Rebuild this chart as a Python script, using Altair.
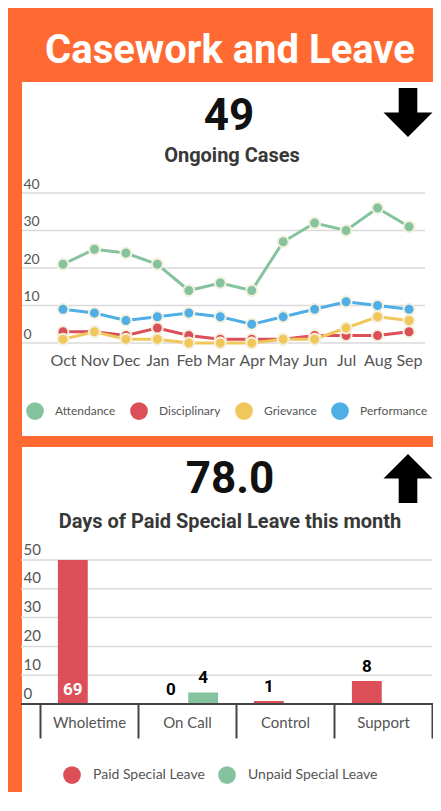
import altair as alt
import pandas as pd

# ---------------- data ----------------
months = ["Oct", "Nov", "Dec", "Jan", "Feb", "Mar", "Apr", "May", "Jun", "Jul", "Aug", "Sep"]
attendance = [21, 25, 24, 21, 14, 16, 14, 27, 32, 30, 36, 31]
disciplinary = [3, 3, 2, 4, 2, 1, 1, 1, 2, 2, 2, 3]
grievance = [1, 3, 1, 1, 0, 0, 0, 1, 1, 4, 7, 6]
performance = [9, 8, 6, 7, 8, 7, 5, 7, 9, 11, 10, 9]
case_types = ["Attendance", "Disciplinary", "Grievance", "Performance"]
case_colors = ["#84C39E", "#DC4F58", "#F1C75B", "#4FAEE6"]
case_ticks = [0, 10, 20, 30, 40]

leave_categories = ["Wholetime", "On Call", "Control", "Support"]
paid_leave = [69, 0, 1, 8]
unpaid_leave = [None, 4, None, None]
leave_types = ["Paid Special Leave", "Unpaid Special Leave"]
leave_colors = ["#DC4F58", "#84C39E"]
leave_ticks = [0, 10, 20, 30, 40, 50]

# ---------------- tables ----------------
case_rows = []
for t, vals in zip(case_types, [attendance, disciplinary, grievance, performance]):
    for i, (m, v) in enumerate(zip(months, vals)):
        case_rows.append({"month": m, "idx": i, "type": t, "value": v})
cases = pd.DataFrame(case_rows)

leave_rows = []
for c, p, u in zip(leave_categories, paid_leave, unpaid_leave):
    if p is not None:
        leave_rows.append({"category": c, "type": leave_types[0], "value": p})
    if u is not None:
        leave_rows.append({"category": c, "type": leave_types[1], "value": u})
leave = pd.DataFrame(leave_rows)

case_tick_df = pd.DataFrame({"tick": case_ticks})
leave_tick_df = pd.DataFrame({"tick": leave_ticks})
zero_df = pd.DataFrame({"tick": [0]})
one = pd.DataFrame({"k": [0]})

# ---------------- layout ----------------
W = 411
H = 784
ORANGE = "#FF6A33"
LABEL_FONT = "Lato"
HEAD_FONT = "Roboto"

# ---------------- casework panel ----------------
case_x = alt.Scale(type="point", domain=months, range=[41, 387], padding=0)
case_y = alt.Scale(domain=[0, 40], range=[335, 185])
case_color = alt.Scale(domain=case_types, range=case_colors)

case_y_axis = alt.Axis(orient="left", values=case_ticks, grid=False, domain=False,
                       ticks=False, tickSize=0, labelAlign="left", labelPadding=-1,
                       labelBaseline="alphabetic", labelOffset=-5, labelFontSize=14,
                       labelFont=LABEL_FONT, labelColor="#555555", title=None, zindex=1)
case_x_axis = alt.Axis(orient="bottom", offset=352 - H, ticks=False, tickSize=0,
                       domain=False, grid=False, labelPadding=0, labelBaseline="middle",
                       labelAngle=0, labelFontSize=16, labelFont=LABEL_FONT,
                       labelColor="#555555", title=None, zindex=1)
case_legend = alt.Legend(orient="none", legendX=4, legendY=394, direction="horizontal",
                         title=None, symbolType="circle", symbolSize=314,
                         symbolStrokeWidth=0, symbolOpacity=1, labelFontSize=12,
                         labelFont=LABEL_FONT, labelColor="#555555", labelOffset=11,
                         columnPadding=14, padding=0)

case_grid = alt.Chart(case_tick_df).mark_rule(color="#DADADA", strokeWidth=1.5).encode(
    y=alt.Y("tick:Q", scale=case_y, axis=case_y_axis),
    x=alt.value(0), x2=alt.value(403))

case_lines = alt.Chart(cases).mark_line(strokeWidth=3).encode(
    x=alt.X("month:N", scale=case_x, sort=months, axis=case_x_axis),
    y=alt.Y("value:Q", scale=case_y, axis=case_y_axis),
    color=alt.Color("type:N", scale=case_color, legend=case_legend),
    order=alt.Order("idx:Q"))

case_points = alt.Chart(cases).mark_circle(size=120, opacity=1, stroke="#F4F0DC",
                                           strokeWidth=2).encode(
    x=alt.X("month:N", scale=case_x, sort=months, axis=case_x_axis),
    y=alt.Y("value:Q", scale=case_y, axis=case_y_axis),
    color=alt.Color("type:N", scale=case_color, legend=case_legend))

case_panel = alt.layer(case_grid, case_lines, case_points)

# ---------------- leave panel ----------------
leave_x = alt.Scale(type="band", domain=leave_categories, range=[18, 410],
                    paddingInner=0, paddingOuter=0)
leave_xoff = alt.Scale(type="band", domain=leave_types, paddingInner=0.077, paddingOuter=0.554)
leave_y = alt.Scale(domain=[0, 50], range=[696, 552], clamp=True)
leave_color = alt.Scale(domain=leave_types, range=leave_colors)

leave_y_axis = alt.Axis(orient="left", values=leave_ticks, grid=False, domain=False,
                        ticks=False, tickSize=0, labelAlign="left", labelPadding=-1,
                        labelBaseline="alphabetic", labelOffset=-6, labelFontSize=15,
                        labelFont=LABEL_FONT, labelColor="#555555", title=None, zindex=1)
leave_x_axis = alt.Axis(orient="bottom", offset=696 - H, tickBand="extent", ticks=True,
                        tickSize=34, tickWidth=2, tickColor="#444444", domain=False,
                        grid=False, labelPadding=-16, labelBaseline="middle", labelAngle=0,
                        labelFontSize=15, labelFont=LABEL_FONT, labelColor="#555555",
                        title=None, zindex=1)
leave_legend = alt.Legend(orient="none", legendX=41, legendY=758, direction="horizontal",
                          title=None, symbolType="circle", symbolSize=314,
                          symbolStrokeWidth=0, symbolOpacity=1, labelFontSize=14,
                          labelFont=LABEL_FONT, labelColor="#555555", labelOffset=12,
                          columnPadding=13, padding=0)

leave_grid = alt.Chart(leave_tick_df).mark_rule(color="#DADADA", strokeWidth=1.5).encode(
    y=alt.Y("tick:Q", scale=leave_y, axis=leave_y_axis),
    x=alt.value(-1), x2=alt.value(410))

leave_bars = alt.Chart(leave).mark_bar().encode(
    x=alt.X("category:N", scale=leave_x, sort=leave_categories, axis=leave_x_axis),
    xOffset=alt.XOffset("type:N", scale=leave_xoff, sort=leave_types),
    y=alt.Y("value:Q", scale=leave_y, axis=leave_y_axis, stack=None),
    color=alt.Color("type:N", scale=leave_color, legend=leave_legend))

leave_labels = alt.Chart(leave).transform_calculate(
    label_y="datum.value > 50 ? 0 : datum.value"
).mark_text(font=HEAD_FONT, fontSize=17, fontWeight="bold", baseline="bottom", dy=-5).encode(
    x=alt.X("category:N", scale=leave_x, sort=leave_categories, axis=leave_x_axis),
    xOffset=alt.XOffset("type:N", scale=leave_xoff, sort=leave_types),
    y=alt.Y("label_y:Q", scale=leave_y, axis=leave_y_axis),
    text=alt.Text("value:Q"),
    color=alt.condition(alt.datum.value > 50, alt.value("white"), alt.value("black")))

leave_base = alt.Chart(zero_df).mark_rule(color="#444444", strokeWidth=2).encode(
    y=alt.Y("tick:Q", scale=leave_y, axis=leave_y_axis),
    x=alt.value(-1), x2=alt.value(W))

leave_panel = alt.layer(leave_grid, leave_bars, leave_labels, leave_base)

# ---------------- decorations / headings ----------------
panel1_bg = alt.Chart(one).mark_rect(color="white").encode(
    x=alt.value(0), x2=alt.value(W), y=alt.value(74), y2=alt.value(428))
panel2_bg = alt.Chart(one).mark_rect(color="white").encode(
    x=alt.value(0), x2=alt.value(W), y=alt.value(439), y2=alt.value(H))

main_title = alt.Chart(one).mark_text(text="Casework and Leave", font=HEAD_FONT, fontSize=40,
                                      fontWeight="bold", color="white", align="center",
                                      baseline="alphabetic").encode(
    x=alt.value(208), y=alt.value(55))

cases_total = alt.Chart(cases).transform_filter(alt.datum.month == months[-1]).transform_aggregate(
    total="sum(value)"
).mark_text(font=HEAD_FONT, fontSize=44, fontWeight="bold", color="#111111", align="center",
            baseline="alphabetic").encode(
    text=alt.Text("total:Q", format="d"), x=alt.value(207), y=alt.value(122))

cases_sub = alt.Chart(one).mark_text(text="Ongoing Cases", font=HEAD_FONT, fontSize=20,
                                     fontWeight="bold", color="#383838", align="center",
                                     baseline="alphabetic").encode(
    x=alt.value(210), y=alt.value(154))

leave_total = alt.Chart(leave).transform_filter(alt.datum.type == leave_types[0]).transform_aggregate(
    total="sum(value)"
).mark_text(font=HEAD_FONT, fontSize=44, fontWeight="bold", color="#111111", align="center",
            baseline="alphabetic").encode(
    text=alt.Text("total:Q", format=".1f"), x=alt.value(208), y=alt.value(485))

leave_sub = alt.Chart(one).mark_text(text="Days of Paid Special Leave this month", font=HEAD_FONT,
                                     fontSize=20, fontWeight="bold", color="#383838",
                                     align="center", baseline="alphabetic").encode(
    x=alt.value(208), y=alt.value(520))

down_arrow_path = "M-0.38,-1 L0.38,-1 L0.38,0 L1,0 L0,1 L-1,0 L-0.38,0 Z"
up_arrow_path = "M-0.38,1 L0.38,1 L0.38,0 L1,0 L0,-1 L-1,0 L-0.38,0 Z"

down_arrow = alt.Chart(one).mark_point(shape=down_arrow_path, filled=True, color="black",
                                       size=2400, opacity=1, strokeWidth=0).encode(
    x=alt.value(386), y=alt.value(104.5))
up_arrow = alt.Chart(one).mark_point(shape=up_arrow_path, filled=True, color="black",
                                     size=2400, opacity=1, strokeWidth=0).encode(
    x=alt.value(386), y=alt.value(470.5))

chart = alt.layer(
    panel1_bg, panel2_bg, case_panel, leave_panel,
    main_title, cases_total, cases_sub, leave_total, leave_sub, down_arrow, up_arrow
).resolve_scale(
    x="independent", y="independent", color="independent"
).resolve_axis(
    x="independent", y="independent"
).resolve_legend(
    color="independent"
).properties(
    width=W, height=H, background=ORANGE,
    padding={"left": 14, "top": 0, "right": 0, "bottom": 0},
    autosize=alt.AutoSizeParams(type="none")
).configure_view(strokeWidth=0)

chart.save("out.html", embed_options={"renderer": "svg", "actions": False})
